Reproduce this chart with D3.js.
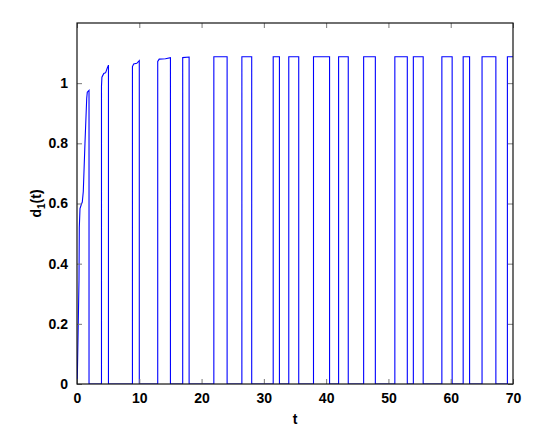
<!DOCTYPE html>
<html>
<head>
<meta charset="utf-8">
<script src="https://cdn.jsdelivr.net/npm/d3@7"></script>
<style>
  html, body { margin: 0; padding: 0; background: #fff; }
  text { font-family: "Liberation Sans", Arial, sans-serif; font-weight: bold; fill: #000; }
</style>
</head>
<body>
<svg id="chart" width="533" height="432"></svg>
<script>
// ---- data ----
const xTicks = [0, 10, 20, 30, 40, 50, 60, 70];
const yTicks = [0, 0.2, 0.4, 0.6, 0.8, 1];
const yTickLabels = ["0", "0.2", "0.4", "0.6", "0.8", "1"];

// early pulses with a visible transient on top: [t, d1] pairs
const pulse1 = [[0, 0], [0.05, 0.02], [0.21, 0.21], [0.32, 0.345], [0.37, 0.52], [0.48, 0.583], [0.75, 0.6], [0.85, 0.605], [1.01, 0.64], [1.28, 0.8], [1.56, 0.95], [1.65, 0.97], [1.93, 0.976]];
const pulse2 = [[3.93, 0.99], [4.0, 1.02], [4.3, 1.032], [4.6, 1.035], [4.85, 1.05], [5.05, 1.06]];
const pulse3 = [[8.9, 1.055], [9.1, 1.064], [9.6, 1.066], [10.0, 1.075]];
const pulse4 = [[12.96, 1.072], [13.2, 1.08], [14.2, 1.081], [15.0, 1.085]];
const pulse5 = [[16.97, 1.085], [18.0, 1.087]];

// later pulses: switch-on / switch-off times and top level
const onTimes  = [21.97, 26.47, 31.5, 34.0, 37.97, 42.0, 46.02, 51.03, 54.0, 58.58, 62.0, 65.03, 69.1];
const offTimes = [24.1, 28.05, 32.5, 35.6, 40.55, 43.55, 47.9, 53.03, 55.58, 60.23, 63.03, 67.25, 70];
const levels   = [1.088, 1.088, 1.088, 1.088, 1.088, 1.088, 1.088, 1.088, 1.088, 1.088, 1.088, 1.088, 1.088];

// ---- layout ----
const svg = d3.select("#chart");
const L = 77, R = 513, T = 23, B = 384;
const x = d3.scaleLinear().domain([0, 70]).range([L, R]);
const y = d3.scaleLinear().domain([0, 1.2]).range([B, T]);

// build the trajectory
const pts = [];
const early = [pulse1, pulse2, pulse3, pulse4, pulse5];
early.forEach((p, i) => {
  if (i > 0) pts.push([p[0][0], 0]);
  p.forEach(d => pts.push(d));
  pts.push([p[p.length - 1][0], 0]);
});
onTimes.forEach((t0, i) => {
  pts.push([t0, 0]);
  pts.push([t0, levels[i]]);
  pts.push([offTimes[i], levels[i]]);
  if (offTimes[i] < 70) pts.push([offTimes[i], 0]);
});

const clip = svg.append("clipPath").attr("id", "clip")
  .append("rect").attr("x", L).attr("y", T).attr("width", R - L).attr("height", B - T);

svg.append("path")
  .datum(pts)
  .attr("clip-path", "url(#clip)")
  .attr("fill", "none")
  .attr("stroke", "#0000ff")
  .attr("stroke-width", 1.1)
  .attr("d", d3.line().x(d => x(d[0])).y(d => y(d[1])));

// axes (MATLAB-like box with inward ticks)
const tickLen = 5;
const fs = 14;
const xAxisB = d3.axisBottom(x).tickValues(xTicks).tickSize(-tickLen).tickPadding(tickLen + 4).tickFormat(d3.format("d"));
const xAxisT = d3.axisTop(x).tickValues(xTicks).tickSize(-tickLen).tickFormat("");
const yAxisL = d3.axisLeft(y).tickValues(yTicks).tickSize(-tickLen).tickPadding(tickLen + 4).tickFormat((d, i) => yTickLabels[i]);
const yAxisR = d3.axisRight(y).tickValues(yTicks).tickSize(-tickLen).tickFormat("");

function style(g) {
  g.select(".domain").remove();
  g.selectAll(".tick line").attr("stroke", "#777").attr("stroke-width", 1);
  g.selectAll(".tick text").style("font-family", '"Liberation Sans", Arial, sans-serif')
    .style("font-weight", "bold").style("font-size", fs + "px").attr("fill", "#000");
}
svg.append("g").attr("transform", `translate(0,${B})`).call(xAxisB).call(style);
svg.append("g").attr("transform", `translate(0,${T})`).call(xAxisT).call(style);
svg.append("g").attr("transform", `translate(${L},0)`).call(yAxisL).call(style);
svg.append("g").attr("transform", `translate(${R},0)`).call(yAxisR).call(style);

svg.append("rect")
  .attr("x", L).attr("y", T).attr("width", R - L).attr("height", B - T)
  .attr("fill", "none").attr("stroke", "#111").attr("stroke-width", 1.2);

// labels
svg.append("text")
  .attr("x", (L + R) / 2).attr("y", 424)
  .attr("text-anchor", "middle").style("font-size", fs + "px")
  .text("t");

const yl = svg.append("text")
  .attr("transform", `translate(41,${(T + B) / 2}) rotate(-90)`)
  .attr("text-anchor", "middle").style("font-size", fs + "px");
yl.append("tspan").text("d");
yl.append("tspan").attr("dy", 4).style("font-size", "10px").text("1");
yl.append("tspan").attr("dy", -4).text("(t)");
</script>
</body>
</html>
